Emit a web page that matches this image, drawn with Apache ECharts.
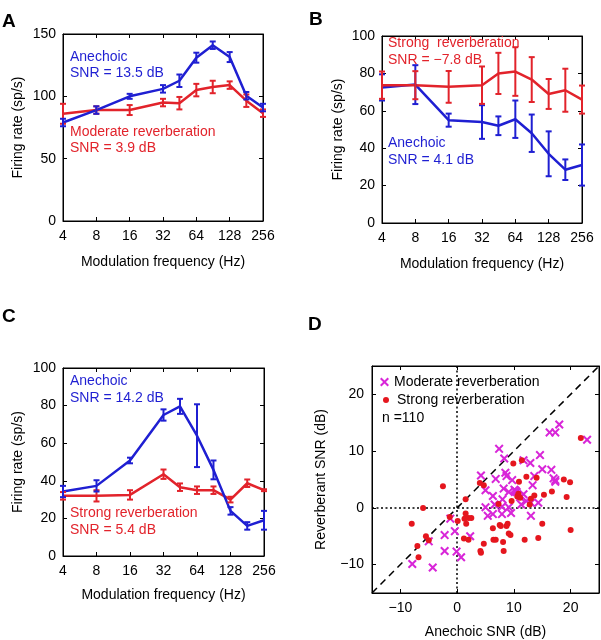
<!DOCTYPE html>
<html><head><meta charset="utf-8">
<script src="https://cdn.jsdelivr.net/npm/echarts@6/dist/echarts.min.js"></script>
<style>html,body{margin:0;padding:0;background:#fff}#c{width:601px;height:640px}</style>
</head><body><div id="c"></div>
<script>
// ---------- data ----------
const freqs = [4, 8, 16, 32, 45, 64, 90, 128, 181, 256];
const freqTickExp = [2, 8, 1]; // log2 range of ticks: 4 .. 256
// Panel A
const aAnechoic = [79, 89, 100, 106, 112.5, 131, 141, 131.5, 100.5, 91];
const aAnechoicErr = [3, 3, 2, 3, 5, 4, 3, 4, 3, 3];
const aModerate = [86, 89, 89, 95, 94.5, 105, 107.5, 109, 96.5, 86.5];
const aModerateErr = [8, 3, 4, 3, 5, 5, 5, 3, 5, 3];
// Panel B
const bStrong = [73.7, 73.7, 72.8, 73.7, 80, 81, 76.7, 69, 71, 66];
const bStrongErr = [7.3, 7.5, 8.5, 10, 11, 13, 12, 8, 11.5, 7.5];
const bAnechoic = [72.5, 74, 55, 54, 52, 55.5, 48, 37, 28.5, 31];
const bAnechoicErr = [7, 10.4, 3.5, 9, 5, 10, 10, 12, 5.5, 11];
// Panel C
const cAnechoic = [34.3, 37.3, 50.8, 75, 79.6, 64, 45.8, 24, 16, 19];
const cAnechoicErr = [3, 3, 1.5, 3, 4, 16.7, 5, 2, 2, 5];
const cStrong = [32, 32, 32.5, 43.5, 36.6, 35, 35, 30, 38.7, 35];
const cStrongErr = [2, 3, 2.5, 2.5, 2, 2, 2, 1.5, 2, 0.5];
// Panel D
const dModerate = [
 [22.9,12.0],[18.0,14.7],[16.3,13.3],[17.3,13.3],[7.4,10.4],[8.3,8.7],[11.7,8.4],[12.9,7.9],
 [14.6,9.3],[4.2,5.7],[6.8,5.1],[8.5,6.2],[8.7,5.6],[9.7,4.9],[13.3,4.0],[13.6,5.6],[15.0,6.8],
 [16.6,6.7],[17.0,5.2],[17.3,4.9],[17.3,4.6],[5.0,3.1],[6.3,2.1],[8.2,3.4],[9.1,2.8],[10.1,3.2],
 [10.5,2.8],[11.1,1.9],[11.7,2.4],[12.2,1.2],[11.3,0.6],[13.0,0.9],[14.3,0.9],[5.0,0.1],[6.6,0.6],
 [7.9,0.2],[9.1,0.1],[5.4,-1.4],[6.3,-1.1],[7.9,-1.1],[9.5,-0.9],[13.0,-1.4],[-1.2,-1.9],
 [2.3,-5.0],[-2.2,-4.8],[-0.4,-4.1],[-2.2,-7.6],[-5.0,-5.9],[-0.1,-7.7],[0.7,-8.7],[-7.9,-9.9],
 [-4.3,-10.5],[10.3,3.0],[8.0,1.5]
];
const dStrong = [
 [21.8,12.3],[-2.5,3.8],[-6.0,0.0],[-8.0,-2.8],[-5.5,-5.0],[-7.0,-6.7],[-6.8,-8.7],[-5.0,-5.7],
 [0.1,-2.3],[-1.3,-1.6],[1.5,1.5],[1.5,-1.0],[1.3,-1.9],[2.0,-1.8],[2.5,-1.8],[1.6,-2.8],[1.2,-5.4],
 [2.0,-5.6],[4.0,4.4],[4.7,4.0],[4.7,-6.3],[4.1,-7.6],[4.2,-7.9],[6.3,-3.6],[6.4,-5.6],[6.8,-5.6],
 [7.3,0.7],[7.5,-3.0],[7.7,-3.2],[8.1,-6.0],[8.2,-7.6],[8.7,-3.2],[8.9,-2.8],[9.1,-4.5],[9.4,-4.8],
 [9.6,1.2],[9.9,7.8],[10.8,2.5],[10.9,4.6],[10.6,2.0],[11.1,1.8],[11.4,8.4],[11.9,-5.6],[12.2,5.5],
 [13.0,1.6],[12.8,0.6],[13.6,2.2],[14.0,5.3],[14.3,-5.3],[15.0,-2.8],[15.3,2.3],[16.7,2.9],
 [18.8,5.0],[19.3,1.9],[19.9,4.5],[20.0,-3.9]
];
const dRange = [-15, 25];
const dTicks = [-10, 0, 10, 20];

// ---------- style ----------
const FONT = '"Liberation Sans", Arial, sans-serif';
const BLUE = '#1f1fd2', RED = '#e2232b', MAG = '#d826d8', DOT = '#e5161e';

const grids = [
  {left: 63, top: 34, width: 200, height: 187},
  {left: 382, top: 36, width: 200, height: 187},
  {left: 63, top: 368, width: 201, height: 188},
  {left: 372, top: 366, width: 227, height: 227}
];

function minus(v){ return v < 0 ? '\u2212' + (-v) : String(v); }

function axisBase(extra){
  return Object.assign({
    type: 'value',
    axisLine: {show: true, onZero: false, lineStyle: {color: '#000', width: 1}},
    axisTick: {show: true, inside: true, length: 4, lineStyle: {color: '#000'}},
    splitLine: {show: false},
    axisLabel: {color: '#000', fontSize: 14, fontFamily: FONT, margin: 7},
    nameTextStyle: {color: '#000', fontSize: 14, fontFamily: FONT},
    nameLocation: 'middle'
  }, extra);
}

const xAxes = [], yAxes = [];
function addFreqAxes(g, ymax, yint, xGap, yGap){
  xAxes.push(axisBase({gridIndex: g, min: freqTickExp[0], max: freqTickExp[1], interval: freqTickExp[2],
    name: 'Modulation frequency (Hz)', nameGap: xGap,
    axisLabel: {color: '#000', fontSize: 14, fontFamily: FONT, margin: 8, formatter: v => String(Math.pow(2, v))}}));
  xAxes.push(axisBase({gridIndex: g, position: 'top', min: freqTickExp[0], max: freqTickExp[1], interval: freqTickExp[2],
    axisLabel: {show: false}}));
  yAxes.push(axisBase({gridIndex: g, min: 0, max: ymax, interval: yint,
    name: 'Firing rate (sp/s)', nameGap: yGap}));
  yAxes.push(axisBase({gridIndex: g, position: 'right', min: 0, max: ymax, interval: yint,
    axisLabel: {show: false}}));
}
addFreqAxes(0, 150, 50, 34, 38);
addFreqAxes(1, 100, 20, 34, 37);
addFreqAxes(2, 100, 20, 32, 38);
// Panel D axes
xAxes.push(axisBase({gridIndex: 3, min: dRange[0], max: dRange[1],
  name: 'Anechoic SNR (dB)', nameGap: 32,
  axisTick: {show: true, inside: true, length: 4, lineStyle: {color: '#000'}, customValues: dTicks},
  axisLabel: {color: '#000', fontSize: 14, fontFamily: FONT, margin: 8, customValues: dTicks, formatter: minus}}));
xAxes.push(axisBase({gridIndex: 3, position: 'top', min: dRange[0], max: dRange[1],
  axisTick: {show: true, inside: true, length: 4, lineStyle: {color: '#000'}, customValues: dTicks},
  axisLabel: {show: false}}));
yAxes.push(axisBase({gridIndex: 3, min: dRange[0], max: dRange[1],
  name: 'Reverberant SNR (dB)', nameGap: 44,
  axisTick: {show: true, inside: true, length: 4, lineStyle: {color: '#000'}, customValues: dTicks},
  axisLabel: {color: '#000', fontSize: 14, fontFamily: FONT, margin: 8, customValues: dTicks, formatter: minus}}));
yAxes.push(axisBase({gridIndex: 3, position: 'right', min: dRange[0], max: dRange[1],
  axisTick: {show: true, inside: true, length: 4, lineStyle: {color: '#000'}, customValues: dTicks},
  axisLabel: {show: false}}));

function errRender(params, api){
  const x = api.value(0), lo = api.value(1), hi = api.value(2);
  const t = api.coord([x, hi]), b = api.coord([x, lo]);
  const c = api.visual('color');
  const hw = 3;
  const st = {stroke: c, lineWidth: 2};
  return {type: 'group', children: [
    {type: 'line', shape: {x1: t[0], y1: t[1], x2: b[0], y2: b[1]}, style: st},
    {type: 'line', shape: {x1: t[0]-hw, y1: t[1], x2: t[0]+hw, y2: t[1]}, style: st},
    {type: 'line', shape: {x1: b[0]-hw, y1: b[1], x2: b[0]+hw, y2: b[1]}, style: st}
  ]};
}

const series = [];
function addCurve(g, vals, errs, color){
  series.push({type: 'line', xAxisIndex: 2*g, yAxisIndex: 2*g, showSymbol: false, silent: true,
    data: freqs.map((f, i) => [Math.log2(f), vals[i]]),
    lineStyle: {color: color, width: 2.5}, itemStyle: {color: color}, z: 3});
  series.push({type: 'custom', xAxisIndex: 2*g, yAxisIndex: 2*g, renderItem: errRender, clip: false,
    itemStyle: {color: color}, encode: {x: 0, y: [1, 2]}, silent: true, z: 4,
    data: freqs.map((f, i) => [Math.log2(f), vals[i] - errs[i], vals[i] + errs[i]])});
}
addCurve(0, aModerate, aModerateErr, RED);
addCurve(0, aAnechoic, aAnechoicErr, BLUE);
addCurve(1, bAnechoic, bAnechoicErr, BLUE);
addCurve(1, bStrong, bStrongErr, RED);
addCurve(2, cStrong, cStrongErr, RED);
addCurve(2, cAnechoic, cAnechoicErr, BLUE);

// Panel D
series.push({type: 'line', xAxisIndex: 6, yAxisIndex: 6, showSymbol: false, silent: true,
  data: [[dRange[0], dRange[0]], [dRange[1], dRange[1]]],
  lineStyle: {color: '#000', width: 1.5, type: [7, 5]}, z: 2,
  markLine: {silent: true, symbol: 'none', label: {show: false},
    lineStyle: {color: '#000', width: 1.5, type: [2, 2.5]},
    data: [{xAxis: 0}, {yAxis: 0}]}});
const XPATH = 'path://M0,1.6 L1.6,0 L5,3.4 L8.4,0 L10,1.6 L6.6,5 L10,8.4 L8.4,10 L5,6.6 L1.6,10 L0,8.4 L3.4,5 Z';
series.push({type: 'scatter', name: 'Moderate reverberation', xAxisIndex: 6, yAxisIndex: 6,
  symbol: XPATH, symbolSize: 9, itemStyle: {color: MAG, opacity: 1}, data: dModerate, z: 5});
series.push({type: 'scatter', name: 'Strong reverberation', xAxisIndex: 6, yAxisIndex: 6,
  symbol: 'circle', symbolSize: 6, itemStyle: {color: DOT, opacity: 1}, data: dStrong, z: 5});

function txt(x, y, s, color, bold, size){
  return {type: 'text', x: x, y: y, z: 100, silent: true,
    style: {text: s, fill: color, font: (bold ? 'bold ' : '') + (size || 14) + 'px ' + FONT,
      textVerticalAlign: 'middle', verticalAlign: 'middle', textAlign: 'left', align: 'left'}};
}

const option = {
  animation: false,
  backgroundColor: '#fff',
  grid: grids.map(g => Object.assign({show: true, borderColor: '#000', borderWidth: 1, backgroundColor: 'transparent', containLabel: false}, g)),
  xAxis: xAxes,
  yAxis: yAxes,
  legend: [
    {data: ['Moderate reverberation'], left: 380, top: 375, orient: 'vertical', padding: 0,
     itemWidth: 9, itemHeight: 9, itemGap: 5, textStyle: {color: '#000', fontSize: 14, fontFamily: FONT}},
    {data: ['Strong reverberation'], left: 383, top: 393, orient: 'vertical', padding: 0,
     itemWidth: 6, itemHeight: 6, itemGap: 5, textStyle: {color: '#000', fontSize: 14, fontFamily: FONT, padding: [0,0,0,3]}}
  ],
  graphic: [
    txt(2, 22, 'A', '#000', true, 19),
    txt(309, 20, 'B', '#000', true, 19),
    txt(2, 317, 'C', '#000', true, 19),
    txt(308, 325, 'D', '#000', true, 19),
    txt(70, 57, 'Anechoic', BLUE), txt(70, 73, 'SNR = 13.5 dB', BLUE),
    txt(70, 132, 'Moderate reverberation', RED), txt(70, 148, 'SNR = 3.9 dB', RED),
    txt(388, 43, 'Strong  reverberation', RED), txt(388, 60, 'SNR = \u22127.8 dB', RED),
    txt(388, 143, 'Anechoic', BLUE), txt(388, 160, 'SNR = 4.1 dB', BLUE),
    txt(70, 381, 'Anechoic', BLUE), txt(70, 398, 'SNR = 14.2 dB', BLUE),
    txt(70, 513, 'Strong reverberation', RED), txt(70, 530, 'SNR = 5.4 dB', RED),
    txt(382, 418, 'n =110', '#000')
  ],
  series: series
};
const chart = echarts.init(document.getElementById('c'), null, {renderer: 'canvas'});
chart.setOption(option);
</script></body></html>
